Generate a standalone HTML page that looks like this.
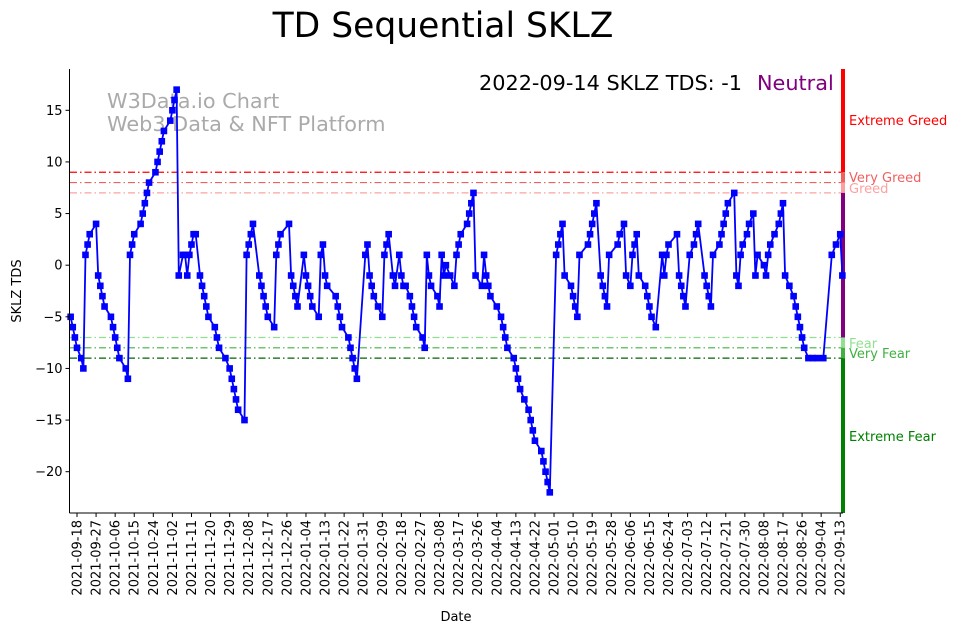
<!DOCTYPE html>
<html><head><meta charset="utf-8">
<style>
body{margin:0;background:#fff;}
svg{display:block;font-family:"DejaVu Sans","Liberation Sans",sans-serif;}
</style></head>
<body>
<svg id="chart" width="962" height="633" viewBox="0 0 962 633" xmlns="http://www.w3.org/2000/svg">
<text x="443" y="37" font-size="34.5" text-anchor="middle" fill="#000">TD Sequential SKLZ</text>
<text x="107" y="108" font-size="20.8" fill="#aaa">W3Data.io Chart</text>
<text x="107" y="131" font-size="20.8" fill="#aaa">Web3 Data &amp; NFT Platform</text>
<text x="479" y="90" font-size="20.8" fill="#000">2022-09-14 SKLZ TDS: -1</text>
<text x="757" y="90" font-size="20.8" fill="#800080">Neutral</text>
<g id="grid"></g>
<g id="bands"></g>
<g id="series"></g>
<g id="axes"></g>
<text x="456" y="621" font-size="13" text-anchor="middle">Date</text>
<text transform="translate(21,291) rotate(-90)" font-size="13" text-anchor="middle">SKLZ TDS</text>
</svg>
<script>
const startDate = "2021-09-15";
const dayIndex = [0,1,2,3,5,6,7,8,9,12,13,14,15,16,19,20,21,22,23,26,27,28,29,30,33,34,35,36,37,40,41,42,43,44,47,48,49,50,51,53,54,55,56,57,58,59,61,62,63,64,65,68,69,70,73,75,76,77,78,79,82,83,84,85,86,89,90,91,92,93,96,97,98,99,103,104,105,106,107,110,111,112,113,114,117,118,119,120,121,125,126,127,128,131,132,133,134,135,139,140,141,142,143,145,147,148,149,150,152,153,155,156,157,158,160,161,162,163,166,167,168,169,170,173,174,175,176,177,179,181,182,183,184,187,188,189,190,191,194,195,196,197,198,201,203,204,205,206,209,210,211,212,214,216,217,218,219,222,223,224,225,226,229,230,231,232,233,236,237,238,239,240,244,245,246,247,248,250,251,252,253,254,258,259,261,262,264,265,266,267,268,271,272,273,274,276,279,280,281,282,286,287,288,289,290,292,294,295,296,299,300,301,302,303,306,307,308,309,310,313,314,315,316,317,319,320,322,323,324,327,328,329,330,332,334,335,336,337,339,341,342,343,344,345,346,348,350,352,355,359,361,363,364];
const tds = [-5,-6,-7,-8,-9,-10,1,2,3,4,-1,-2,-3,-4,-5,-6,-7,-8,-9,-10,-11,1,2,3,4,5,6,7,8,9,10,11,12,13,14,15,16,17,-1,1,1,-1,1,2,3,3,-1,-2,-3,-4,-5,-6,-7,-8,-9,-10,-11,-12,-13,-14,-15,1,2,3,4,-1,-2,-3,-4,-5,-6,1,2,3,4,-1,-2,-3,-4,1,-1,-2,-3,-4,-5,1,2,-1,-2,-3,-4,-5,-6,-7,-8,-9,-10,-11,1,2,-1,-2,-3,-4,-5,1,2,3,-1,-2,1,-1,-2,-2,-3,-4,-5,-6,-7,-8,1,-1,-2,-3,-4,1,-1,0,-1,-2,1,2,3,4,5,6,7,-1,-2,1,-1,-2,-3,-4,-5,-6,-7,-8,-9,-10,-11,-12,-13,-14,-15,-16,-17,-18,-19,-20,-21,-22,1,2,3,4,-1,-2,-3,-4,-5,1,2,3,4,5,6,-1,-2,-3,-4,1,2,3,4,-1,-2,1,2,3,-1,-2,-3,-4,-5,-6,1,-1,1,2,3,-1,-2,-3,-4,1,2,3,4,-1,-2,-3,-4,1,2,3,4,5,6,7,-1,-2,1,2,3,4,5,-1,1,0,-1,1,2,3,4,5,6,-1,-2,-3,-4,-5,-6,-7,-8,-9,-9,-9,-9,1,2,3,-1];
const yTicks = [15,10,5,0,-5,-10,-15,-20];
const levels = [9,8,7,-7,-8,-9];
const levelColors = ["#ff0000","#f06060","#ffa0a0","#90e090","#40b040","#006400"];

const NS="http://www.w3.org/2000/svg";
const L=69.5,R=843,T=69,B=513,yMin=-24,yMax=19,dMin=-0.3,dMax=364.3;
const xs=d=>70+(d-dMin)*(843-70)/(dMax-dMin);
const ys=v=>T+(yMax-v)*(B-T)/(yMax-yMin);
function mk(tag,attrs,parent){const e=document.createElementNS(NS,tag);for(const k in attrs)e.setAttribute(k,attrs[k]);parent.appendChild(e);return e;}
const grid=document.getElementById('grid'),axes=document.getElementById('axes'),series=document.getElementById('series'),bands=document.getElementById('bands');

levels.forEach((lv,i)=>{
  const ln=mk('line',{x1:70,x2:843,y1:ys(lv),y2:ys(lv),stroke:levelColors[i],'stroke-width':1.2,'stroke-dasharray':'7,3,1.5,3'},grid);
  
  
});
const bandDefs=[[yMax,9,"#ff0000"],[9,8,"#f06060"],[8,7,"#ffa0a0"],[7,-7,"#800080"],[-7,-8,"#90e090"],[-8,-9,"#40b040"],[-9,yMin,"#008000"]];
bandDefs.forEach((b,i)=>{
  const r=mk('rect',{x:841,y:ys(b[0]),width:4,height:ys(b[1])-ys(b[0]),fill:b[2]},bands);
  
  
});
const labels=[["Extreme Greed",125,"#ff0000"],["Very Greed",182,"#f06060"],["Greed",193,"#ffa0a0"],["Fear",348,"#90e090"],["Very Fear",358,"#40b040"],["Extreme Fear",441,"#008000"]];
labels.forEach(l=>{
  const t=mk('text',{x:849,y:l[1],'font-size':13,fill:l[2]},bands);t.textContent=l[0];
  
  
});

const pts=dayIndex.map((d,i)=>xs(d).toFixed(1)+','+ys(tds[i]).toFixed(1)).join(' ');
const pl=mk('polyline',{points:pts,fill:'none',stroke:'#0000ff','stroke-width':1.8},series);


dayIndex.forEach((d,i)=>{
  const m=mk('rect',{x:xs(d)-3.3,y:ys(tds[i])-3.3,width:6.6,height:6.6,fill:'#0000ff'},series);
  
  
});

const ya=mk('line',{x1:L,x2:L,y1:T,y2:B,stroke:'#000','stroke-width':1},axes);


const xa=mk('line',{x1:L,x2:R,y1:B,y2:B,stroke:'#000','stroke-width':1},axes);


yTicks.forEach(v=>{
  mk('line',{x1:L-4,x2:L,y1:ys(v),y2:ys(v),stroke:'#000'},axes);
  const t=mk('text',{x:L-7,y:ys(v)+4.5,'font-size':13,'text-anchor':'end'},axes);t.textContent=v<0?'\u2212'+(-v):String(v);
  
  
});
const s0=new Date(startDate+"T00:00:00Z");
for(let d=3;d<=364;d+=9){
  const x=xs(d);
  mk('line',{x1:x,x2:x,y1:B,y2:B+4,stroke:'#000'},axes);
  const dt=new Date(s0.getTime()+d*86400000);
  const s=dt.toISOString().slice(0,10);
  const t=mk('text',{transform:`translate(${(x+4.5).toFixed(1)},${B+7}) rotate(-90)`,'font-size':13,'text-anchor':'end'},axes);t.textContent=s;
  
  
}
</script>
</body></html>
